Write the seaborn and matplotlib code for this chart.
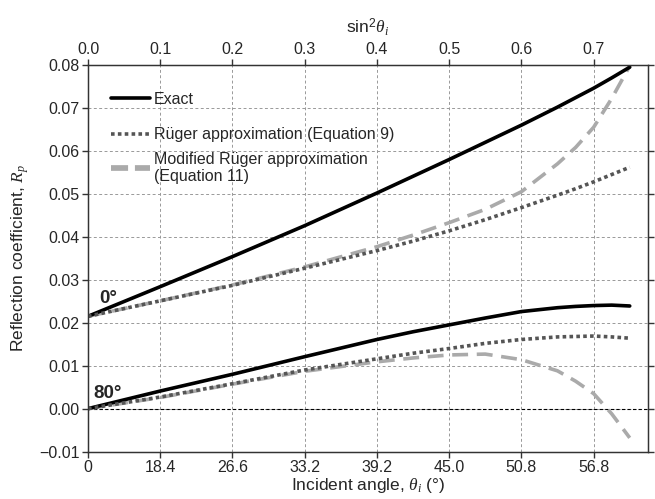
import numpy as np
import pandas as pd
import matplotlib
matplotlib.use("Agg")
import matplotlib.pyplot as plt
import seaborn as sns

sin2 = [0.0, 0.1, 0.2, 0.3, 0.4, 0.45, 0.5, 0.55, 0.6, 0.65, 0.675, 0.7, 0.725, 0.75]
exact_0 = [0.0215, 0.0284, 0.0354, 0.0426, 0.0502, 0.0541, 0.0580, 0.0620, 0.0660, 0.0702, 0.0724, 0.0746, 0.0770, 0.0795]
ruger_0 = [0.0215, 0.0251, 0.0287, 0.0327, 0.0368, 0.0390, 0.0414, 0.0440, 0.0468, 0.0497, 0.0512, 0.0528, 0.0545, 0.0562]
modif_0 = [0.0215, 0.0251, 0.0288, 0.0330, 0.0377, 0.0404, 0.0433, 0.0464, 0.0505, 0.0570, 0.0608, 0.0655, 0.0722, 0.0798]
exact_80 = [0.0, 0.0041, 0.0080, 0.0121, 0.0161, 0.0179, 0.0195, 0.0211, 0.0226, 0.0235, 0.0238, 0.0240, 0.0241, 0.0239]
ruger_80 = [0.0, 0.0027, 0.0058, 0.0090, 0.0116, 0.0129, 0.0140, 0.0152, 0.0161, 0.0167, 0.0168, 0.0169, 0.0167, 0.0164]
modif_80 = [0.0, 0.0026, 0.0057, 0.0087, 0.0109, 0.0118, 0.0125, 0.0127, 0.0114, 0.0088, 0.0064, 0.0035, -0.0012, -0.0068]

tick_pos = [0.0, 0.1, 0.2, 0.3, 0.4, 0.5, 0.6, 0.7]
bottom_labels = ["0", "18.4", "26.6", "33.2", "39.2", "45.0", "50.8", "56.8"]
top_labels = ["0.0", "0.1", "0.2", "0.3", "0.4", "0.5", "0.6", "0.7"]
y_ticks = [-0.01, 0.0, 0.01, 0.02, 0.03, 0.04, 0.05, 0.06, 0.07, 0.08]

names = ["Exact", "Rüger approximation (Equation 9)", "Modified Rüger approximation\n(Equation 11)"]

sns.set_style("white")
plt.rcParams['font.family'] = ['Liberation Sans', 'DejaVu Sans']
plt.rcParams['mathtext.fontset'] = 'custom'
plt.rcParams['mathtext.it'] = 'Liberation Serif:italic'
plt.rcParams['mathtext.rm'] = 'Liberation Sans'

fig = plt.figure(figsize=(6.55, 4.99), dpi=100)
ax = fig.add_axes([0.1344, 0.095, 0.8546, 0.7747])

lw = 2.6
EX_COL, RU_COL, MO_COL = "black", "#555555", "#aaaaaa"
RU_DASH, MO_DASH = (1.0, 0.9), (4.4, 2.4)

# modified first, then exact, then Rüger dotted on top
for yy in (modif_0, modif_80):
    sns.lineplot(x=sin2, y=yy, ax=ax, color=MO_COL, lw=lw, legend=False)
    ax.lines[-1].set_dashes(MO_DASH)
for yy in (exact_0, exact_80):
    sns.lineplot(x=sin2, y=yy, ax=ax, color=EX_COL, lw=lw, legend=False)
for yy in (ruger_0, ruger_80):
    sns.lineplot(x=sin2, y=yy, ax=ax, color=RU_COL, lw=lw, legend=False)
    ax.lines[-1].set_dashes(RU_DASH)

ax.axhline(0.0, color="black", lw=0.8, ls=(0, (3, 2)), zorder=1)

ax.set_xlim(0, 0.775)
ax.set_ylim(-0.01, 0.08)
ax.set_xticks(tick_pos)
ax.set_xticklabels(bottom_labels)
ax.set_yticks(y_ticks)
ax.set_yticklabels(["\u22120.01" if v < 0 else f"{v:.2f}" for v in y_ticks])
ax.grid(True, color="#999999", lw=0.7, ls=(0, (3, 2.5)))
ax.set_axisbelow(True)

for s in ax.spines.values():
    s.set_color("#333333")
    s.set_linewidth(1.0)

ax.tick_params(axis="both", direction="out", length=4, width=1, color="#333333",
               labelsize=11.5, right=True, left=True, bottom=True, top=False,
               labelright=False, pad=2)

ax2 = ax.twiny()
ax2.set_xlim(ax.get_xlim())
ax2.set_xticks(tick_pos)
ax2.set_xticklabels(top_labels)
ax2.tick_params(axis="x", direction="out", length=4, width=1, color="#333333",
                labelsize=11.5, pad=2, top=True, labeltop=True, bottom=False, labelbottom=False)
for s in ax2.spines.values():
    s.set_color("#333333")
ax2.set_xlabel(r"sin$^2\mathit{\theta_i}$", fontsize=12.5, labelpad=6)

ax.set_xlabel(r"Incident angle, $\mathit{\theta_i}$ (°)", fontsize=12.5, labelpad=1)
ax.set_ylabel(r"Reflection coefficient, $\mathit{R_p}$", fontsize=12.5, labelpad=6)

ax.text(0.015, 0.0236, "0°", fontsize=13.5, fontweight="bold", ha="left", va="bottom")
ax.text(0.007, 0.0015, "80°", fontsize=13.5, fontweight="bold", ha="left", va="bottom")

h_ex = plt.Line2D([], [], color=EX_COL, lw=lw)
h_ru = plt.Line2D([], [], color=RU_COL, lw=lw, dashes=RU_DASH)
h_mo = plt.Line2D([], [], color=MO_COL, lw=lw + 1.5, dashes=(3.0, 1.2))

leg1 = ax.legend([h_ex, h_ru], names[:2], loc="upper left", bbox_to_anchor=(0.03, 0.948),
                 frameon=False, fontsize=11.5, handlelength=2.4, handletextpad=0.25,
                 labelspacing=1.29, borderaxespad=0)
ax.add_artist(leg1)
leg2 = ax.legend([h_mo], names[2:], loc="upper left", bbox_to_anchor=(0.03, 0.792),
                 frameon=False, fontsize=11.5, handlelength=2.4, handletextpad=0.25,
                 borderaxespad=0)

fig.savefig("out.png", dpi=100)
